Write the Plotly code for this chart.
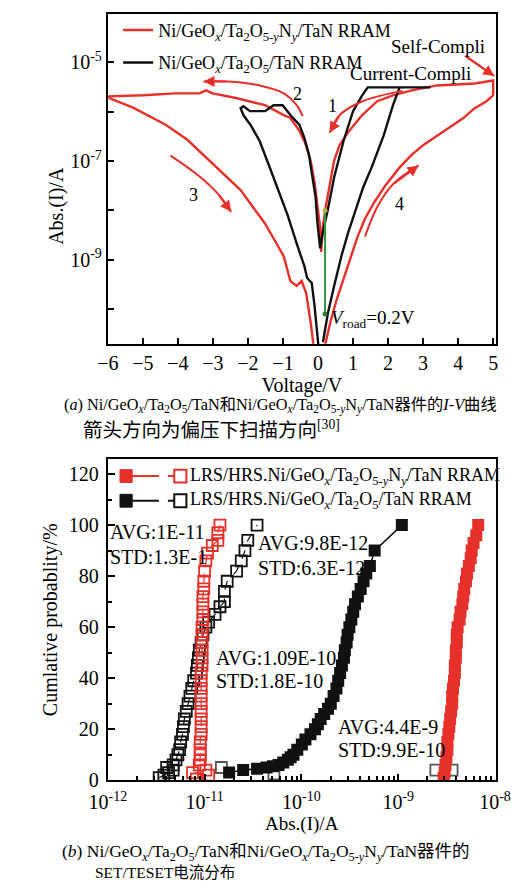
import numpy as np
import plotly.graph_objects as go

# ---------------- (a) I-V curves: voltage (V) and log10(|I| / A) ----------------
red_v = [0.20, 0.35, 0.54, 0.73, 0.94, 1.13, 1.34, 1.61, 1.93, 2.33, 2.68, 3.02, 3.40, 3.75, 4.15, 4.47, 4.81, 5.00,
         5.00, 4.47, 3.40, 2.68, 2.14, 1.69, 1.26, 0.89, 0.62, 0.46, 0.33, 0.22, 0.14, 0.09,
         0.06, -0.02, -0.10, -0.21, -0.37, -0.53, -0.79, -0.98, -1.51, -2.31, -3.01, -3.20, -3.38, -4.08, -4.99, -5.97,
         -5.94, -5.25, -4.34, -3.73, -3.20, -2.66, -2.21, -1.86, -1.51, -1.25, -0.98, -0.79, -0.61, -0.47, -0.34, -0.21, -0.13]
red_log_i = [-10.73, -10.27, -9.79, -9.39, -8.93, -8.53, -8.17, -7.83, -7.49, -7.13, -6.87, -6.67, -6.49, -6.33, -6.13, -5.93, -5.79, -5.67,
             -5.37, -5.43, -5.47, -5.57, -5.67, -5.79, -6.07, -6.39, -6.67, -6.99, -7.47, -7.93, -8.33, -8.84,
             -8.34, -7.84, -7.43, -6.99, -6.63, -6.39, -6.13, -6.07, -5.87, -5.73, -5.63, -5.57, -5.63, -5.63, -5.67, -5.69,
             -5.73, -5.93, -6.27, -6.57, -6.93, -7.29, -7.59, -7.93, -8.27, -8.59, -8.93, -9.43, -9.53, -9.43, -9.67, -10.27, -10.73]

black_v = [0.14, 0.28, 0.46, 0.68, 0.86, 1.08, 1.29, 1.53, 1.88, 2.14, 2.33, 3.21, 1.42, 1.26, 1.00, 0.73, 0.46, 0.28, 0.14, 0.06,
           -0.02, -0.07, -0.15, -0.26, -0.39, -0.53, -0.79, -1.01, -1.27, -1.51, -1.94, -2.13, -2.21,
           -2.13, -1.91, -1.67, -1.41, -1.14, -0.87, -0.61, -0.39, -0.31, -0.18, -0.10, -0.05, 0.01]
black_log_i = [-10.67, -10.09, -9.53, -8.89, -8.45, -7.99, -7.53, -7.13, -6.47, -5.87, -5.51, -5.51, -5.51, -5.67, -5.99, -6.59, -7.33, -7.99, -8.43, -8.77,
               -8.23, -7.73, -7.33, -6.87, -6.53, -6.27, -6.07, -5.87, -5.87, -5.99, -5.99, -5.89, -5.93,
               -6.07, -6.29, -6.59, -7.07, -7.59, -8.09, -8.67, -9.13, -9.37, -9.47, -9.93, -10.33, -10.73]

v_read = [0.2, 0.2]
v_read_current = [1.0e-8, 8.0e-11]

y_major = [1e-5, 1e-7, 1e-9]
y_minor = [1e-4, 1e-6, 1e-8, 1e-10]
volt_ticks = [-6, -5, -4, -3, -2, -1, 0, 1, 2, 3, 4, 5]

# sweep-direction arrows (V, log10 I); last point is the arrow head
arrow_paths = [
    ([2.41, 1.27, 0.62, 0.33], [-5.58, -5.79, -6.07, -6.43]),
    ([-0.44, -0.61, -0.98, -1.67, -2.58, -3.27], [-6.09, -5.87, -5.63, -5.47, -5.39, -5.39]),
    ([-4.21, -3.46, -2.85, -2.48], [-6.89, -7.27, -7.67, -8.03]),
    ([1.34, 1.69, 2.14, 2.87], [-8.53, -7.93, -7.47, -7.09]),
    ([4.20, 5.03], [-4.87, -5.28]),
]

# ---------------- (b) cumulative distributions: current (A) vs probability (%) ----------------
red_lrs_prob = [1, 3, 6, 9, 12, 15, 18, 21, 24, 27, 30, 33, 36, 39, 42, 45, 48, 51, 54, 57, 60, 63, 66, 69, 72, 75, 78, 81, 84, 87, 90, 93, 96, 100]
red_lrs_a = [2.95e-9, 3.02e-9, 3.08e-9, 3.15e-9, 3.22e-9, 3.22e-9, 3.30e-9, 3.37e-9, 3.44e-9, 3.52e-9, 3.61e-9, 3.61e-9, 3.68e-9, 3.77e-9,
             3.85e-9, 3.85e-9, 3.94e-9, 3.94e-9, 4.03e-9, 4.03e-9, 4.11e-9, 4.31e-9, 4.40e-9, 4.60e-9, 4.70e-9, 4.81e-9, 5.02e-9, 5.14e-9,
             5.37e-9, 5.61e-9, 5.74e-9, 6.00e-9, 6.41e-9, 6.71e-9]

red_hrs_prob = [0.5, 2, 3, 4, 6, 8, 10, 12, 15, 18, 21, 24, 27, 30, 33, 36, 39, 42, 45, 48, 51, 54, 57, 60, 63, 66, 69, 72, 75, 78, 82, 86, 89, 92, 94, 97, 100]
red_hrs_a = [8.2e-12, 1.10e-11, 7.5e-12, 1.03e-11, 8.8e-12, 9.0e-12, 9.0e-12, 9.0e-12, 9.0e-12, 9.2e-12, 9.2e-12, 9.2e-12, 9.2e-12, 9.2e-12,
             9.2e-12, 9.2e-12, 9.2e-12, 9.2e-12, 9.4e-12, 9.4e-12, 9.4e-12, 9.4e-12, 9.4e-12, 9.4e-12, 9.6e-12, 9.6e-12, 9.6e-12, 9.6e-12,
             9.8e-12, 9.8e-12, 1.00e-11, 1.03e-11, 1.07e-11, 1.20e-11, 1.37e-11, 1.37e-11, 1.44e-11]

black_lrs_prob = [3, 4, 4.5, 5, 5.5, 6, 7, 8, 9, 10, 12, 14, 16, 18, 20, 22, 24, 26, 28, 30, 33, 36, 39, 42, 45, 48, 51, 54, 57, 60,
                  63, 66, 69, 72, 75, 78, 81, 84, 90, 100]
black_lrs_a = [1.79e-11, 2.50e-11, 3.48e-11, 4.36e-11, 5.08e-11, 5.81e-11, 6.49e-11, 7.24e-11, 7.74e-11, 8.28e-11, 9.06e-11, 1.01e-10,
               1.10e-10, 1.24e-10, 1.38e-10, 1.48e-10, 1.58e-10, 1.72e-10, 1.88e-10, 2.01e-10, 2.15e-10, 2.30e-10, 2.40e-10, 2.51e-10,
               2.62e-10, 2.75e-10, 2.81e-10, 2.93e-10, 3.00e-10, 3.13e-10, 3.28e-10, 3.43e-10, 3.58e-10, 3.83e-10, 4.09e-10, 4.38e-10,
               4.68e-10, 5.10e-10, 5.71e-10, 1.09e-9]

black_hrs_prob = [1, 2, 3, 4, 5, 6, 8, 10, 12, 15, 18, 21, 24, 27, 30, 33, 36, 39, 42, 45, 48, 51, 54, 57, 60, 62, 65, 68, 70, 74, 78,
                  82, 86, 90, 94, 100]
black_hrs_a = [3.39e-12, 3.79e-12, 4.24e-12, 4.73e-12, 4.05e-12, 4.73e-12, 5.06e-12, 5.29e-12, 5.52e-12, 5.65e-12, 5.90e-12, 6.04e-12,
               6.17e-12, 6.46e-12, 6.75e-12, 7.05e-12, 7.36e-12, 7.71e-12, 8.24e-12, 8.41e-12, 8.61e-12, 8.81e-12, 9.20e-12, 9.62e-12,
               1.03e-11, 1.10e-11, 1.28e-11, 1.44e-11, 1.60e-11, 1.60e-11, 1.71e-11, 2.14e-11, 2.39e-11, 2.61e-11, 2.79e-11, 3.48e-11]
black_hrs_extra_prob = [5, 2.5, 4, 4]
black_hrs_extra_a = [1.49e-11, 5.20e-11, 2.45e-9, 3.60e-9]

cur_ticks = [1e-12, 1e-11, 1e-10, 1e-9, 1e-8]
cur_ticktext = ["10<sup>-12</sup>", "10<sup>-11</sup>", "10<sup>-10</sup>", "10<sup>-9</sup>", "10<sup>-8</sup>"]

# ---------------- figure ----------------
W, H = 525, 892
def px(x): return x / W
def py(y): return 1 - y / H

RED = "#e8302a"
BLK = "#111111"
SERIF = "Liberation Serif, Times New Roman, serif"
MIX = "Liberation Serif, Noto Sans CJK SC, serif"

name_red = "Ni/GeO<sub><i>x</i></sub>/Ta<sub>2</sub>O<sub>5-<i>y</i></sub>N<sub><i>y</i></sub>/TaN RRAM"
name_blk = "Ni/GeO<sub><i>x</i></sub>/Ta<sub>2</sub>O<sub>5</sub>/TaN RRAM"

fig = go.Figure()
fig.add_trace(go.Scatter(x=red_v, y=10 ** np.array(red_log_i), mode="lines", name=name_red,
                         line=dict(color=RED, width=2.4), legendgroup="r", xaxis="x", yaxis="y"))
fig.add_trace(go.Scatter(x=black_v, y=10 ** np.array(black_log_i), mode="lines", name=name_blk,
                         line=dict(color=BLK, width=2.4), legendgroup="b", xaxis="x", yaxis="y"))
fig.add_trace(go.Scatter(x=v_read, y=v_read_current, mode="lines+markers", showlegend=False,
                         line=dict(color="#2f9a3c", width=2), marker=dict(size=5, color=["#b8b040", "#2f7a3c"]),
                         xaxis="x", yaxis="y"))

annotations = []
for xs, ys in arrow_paths:
    fig.add_trace(go.Scatter(x=xs, y=10 ** np.array(ys), mode="lines", showlegend=False, hoverinfo="skip",
                             line=dict(color=RED, width=2, shape="spline"), xaxis="x", yaxis="y"))
    annotations.append(dict(x=xs[-1], y=ys[-1], ax=xs[-2], ay=ys[-2], xref="x", yref="y", axref="x", ayref="y",
                            showarrow=True, arrowhead=2, arrowsize=1.1, arrowwidth=2, arrowcolor=RED, text="", standoff=0))

# (b) traces
fig.add_trace(go.Scatter(x=black_hrs_a, y=black_hrs_prob, mode="lines+markers", showlegend=False, name="HRS Ni/GeOx/Ta2O5",
                         line=dict(color=BLK, width=1.2, dash="dash"),
                         marker=dict(symbol="square-open", size=11, color=BLK, line=dict(width=1.8)),
                         xaxis="x2", yaxis="y2"))
fig.add_trace(go.Scatter(x=black_hrs_extra_a, y=black_hrs_extra_prob, mode="markers", showlegend=False,
                         marker=dict(symbol="square-open", size=11, color="#555555", line=dict(width=1.8)),
                         xaxis="x2", yaxis="y2"))
fig.add_trace(go.Scatter(x=red_hrs_a, y=red_hrs_prob, mode="lines+markers", showlegend=False, name="HRS Ni/GeOx/Ta2O5-yNy",
                         line=dict(color=RED, width=1.2, dash="dash"),
                         marker=dict(symbol="square-open", size=11, color=RED, line=dict(width=1.8)),
                         xaxis="x2", yaxis="y2"))
fig.add_trace(go.Scatter(x=black_lrs_a, y=black_lrs_prob, mode="lines+markers", showlegend=False, name="LRS Ni/GeOx/Ta2O5",
                         line=dict(color=BLK, width=1.5),
                         marker=dict(symbol="square", size=12, color=BLK),
                         xaxis="x2", yaxis="y2"))
fig.add_trace(go.Scatter(x=red_lrs_a, y=red_lrs_prob, mode="lines+markers", showlegend=False, name="LRS Ni/GeOx/Ta2O5-yNy",
                         line=dict(color=RED, width=1.5),
                         marker=dict(symbol="square", size=12, color=RED),
                         xaxis="x2", yaxis="y2"))

def txt(x, y, s, size=18, anchor="left", family=SERIF, angle=0):
    annotations.append(dict(x=px(x), y=py(y), xref="paper", yref="paper", text=s, showarrow=False,
                            xanchor=anchor, yanchor="middle", textangle=angle, borderpad=0,
                            font=dict(size=size, family=family, color="black")))

# (a) texts
txt(448, 47, "Self-Compli", 19, "center")
txt(419, 74, "Current-Compli", 19, "center")
txt(335, 107, "1", 18, "center")
txt(298, 95, "2", 18, "center")
txt(187, 197, "3", 18, "center")
txt(407, 207, "4", 18, "center")
txt(333, 323, "<i>V</i><sub>road</sub>=0.2V", 19)
txt(40, 208, "Abs.(I)/A", 20, "center", angle=-90)

# (b) texts
txt(96, 539, "AVG:1E-11", 20)
txt(96, 564, "STD:1.3E-1", 20)
txt(254, 550, "AVG:9.8E-12", 20)
txt(254, 575, "STD:6.3E-12", 20)
txt(210, 666, "AVG:1.09E-10", 20)
txt(210, 689, "STD:1.8E-10", 20)
txt(340, 736, "AVG:4.4E-9", 20)
txt(340, 759, "STD:9.9E-10", 20)
txt(303, 834, "Abs.(I)/A", 19, "center")

# bottom legend (manual)
shapes = []
leg_rows = [(482, RED, "LRS/HRS.Ni/GeO<sub><i>x</i></sub>/Ta<sub>2</sub>O<sub>5-<i>y</i></sub>N<sub><i>y</i></sub>/TaN RRAM"),
            (507, BLK, "LRS/HRS.Ni/GeO<sub><i>x</i></sub>/Ta<sub>2</sub>O<sub>5</sub>/TaN RRAM")]
for yy, col, label in leg_rows:
    shapes.append(dict(type="line", xref="paper", yref="paper", x0=px(115), x1=px(140), y0=py(yy), y1=py(yy),
                       line=dict(color=col, width=2)))
    shapes.append(dict(type="line", xref="paper", yref="paper", x0=px(140), x1=px(166), y0=py(yy), y1=py(yy),
                       line=dict(color=col, width=2, dash="dash")))
    shapes.append(dict(type="rect", xref="paper", yref="paper", x0=px(108), x1=px(121), y0=py(yy - 6.5), y1=py(yy + 6.5),
                       fillcolor=col, line=dict(color=col, width=1)))
    shapes.append(dict(type="rect", xref="paper", yref="paper", x0=px(166), x1=px(179), y0=py(yy - 6.5), y1=py(yy + 6.5),
                       fillcolor="white", line=dict(color=col, width=2)))
    txt(182, yy, label, 18)

# captions
txt(47, 411, "(<i>a</i>) Ni/GeO<sub><i>x</i></sub>/Ta<sub>2</sub>O<sub>5</sub>/TaN和Ni/GeO<sub><i>x</i></sub>/Ta<sub>2</sub>O<sub>5-<i>y</i></sub>N<sub><i>y</i></sub>/TaN器件的<i>I</i>-<i>V</i>曲线", 16.3, family=MIX)
txt(67, 434, "箭头方向为偏压下扫描方向<sup>[30]</sup>", 19.5, family=MIX)
txt(45, 863, "(<i>b</i>) Ni/GeO<sub><i>x</i></sub>/Ta<sub>2</sub>O<sub>5</sub>/TaN和Ni/GeO<sub><i>x</i></sub>/Ta<sub>2</sub>O<sub>5-<i>y</i></sub>N<sub><i>y</i></sub>/TaN器件的", 17.5, family=MIX)
txt(80, 883, "SET/TESET电流分布", 15.5, family=MIX)

axis_common = dict(showline=True, linewidth=2, linecolor="black", mirror=True, showgrid=False, zeroline=False,
                   ticks="inside", tickwidth=2, tickcolor="black", tickfont=dict(size=20, family=SERIF))

fig.update_layout(
    width=W, height=H, margin=dict(l=0, r=0, t=0, b=0),
    paper_bgcolor="white", plot_bgcolor="white",
    font=dict(family=SERIF, size=17, color="black"),
    xaxis=dict(domain=[px(95), px(510)], anchor="y", range=[-6, 5.08], tickvals=volt_ticks, ticklen=6,
               title=dict(text="Voltage/V", font=dict(size=20), standoff=2), **axis_common),
    yaxis=dict(domain=[py(348), py(14)], anchor="x", type="log", range=[-10.7, -4.02],
               tickvals=y_major + y_minor,
               ticktext=["10<sup>-5</sup>", "10<sup>-7</sup>", "10<sup>-9</sup>", "", "", "", ""], ticklen=6,
               **axis_common),
    xaxis2=dict(domain=[px(95), px(510)], anchor="y2", type="log", range=[-12, -7.99],
                tickvals=cur_ticks, ticktext=cur_ticktext, ticklen=6, ticklabelstandoff=3,
                minor=dict(ticks="inside", ticklen=4, tickwidth=1.5, tickcolor="black", dtick="D1"),
                **axis_common),
    yaxis2=dict(domain=[py(790), py(465)], anchor="x2", range=[0, 125.8], tickvals=[0, 20, 40, 60, 80, 100, 120],
                ticklen=7, ticklabelstandoff=3,
                minor=dict(ticks="inside", ticklen=4, tickwidth=1.5, tickcolor="black", dtick=10),
                title=dict(text="Cumlative probablity/%", font=dict(size=20), standoff=6), **axis_common),
    legend=dict(x=px(106), y=py(12), xanchor="left", yanchor="top", bgcolor="rgba(0,0,0,0)",
                font=dict(size=18, family=SERIF), traceorder="grouped", tracegroupgap=6),
    annotations=annotations,
    shapes=shapes,
)

fig.write_html("out.html")
